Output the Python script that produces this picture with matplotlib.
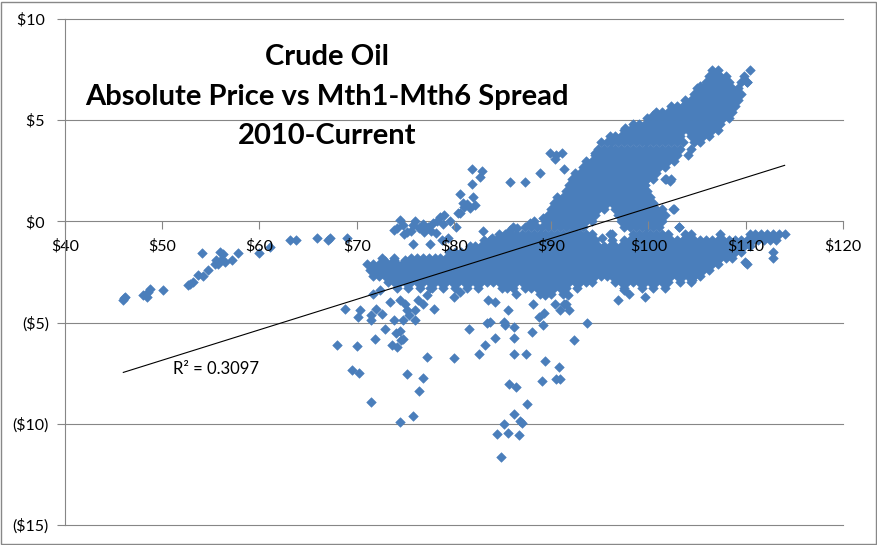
import matplotlib
matplotlib.use('Agg')
import matplotlib.pyplot as plt
from matplotlib.patches import Rectangle

plt.rcParams['font.family'] = ['Lato', 'DejaVu Sans']

# front-month price ($/bbl) vs Mth1-Mth6 spread ($)
left_tail = [(46.0, -3.9), (46.2, -3.75), (46.1, -3.8), (48.0, -3.66), (48.4, -3.75),
             (48.5, -3.5), (48.7, -3.36), (50.1, -3.41), (52.6, -3.16), (52.9, -3.1),
             (53.2, -3.0), (53.7, -2.67), (54.2, -2.7), (54.7, -2.42), (54.1, -1.58),
             (55.4, -2.08), (55.5, -1.9), (55.7, -2.1), (55.9, -1.53), (56.0, -1.9),
             (56.3, -1.6), (56.5, -2.0), (57.2, -1.93), (57.8, -1.58), (60.0, -1.58),
             (61.1, -1.28), (63.1, -0.94), (63.8, -0.94), (65.9, -0.84), (67.0, -0.94),
             (67.3, -0.8), (69.0, -0.8)]

upper_left = [(74.4, 0.05), (74.1, -0.35), (73.8, -0.4), (74.8, -0.2), (75.2, -0.5),
              (75.8, -0.2), (75.6, -0.45), (76.0, 0.0), (76.4, -0.35), (76.8, -0.15),
              (76.9, -0.5), (77.3, -0.3), (77.6, -0.45), (77.8, -0.1), (78.2, -0.55),
              (78.3, 0.0), (78.6, 0.2), (78.9, -0.15), (79.0, 0.3), (79.4, -0.8),
              (79.6, 0.0), (80.2, -0.3), (74.9, -0.6), (75.8, -1.1), (77.5, -1.1),
              (78.8, -0.9), (80.4, 0.4), (80.6, 0.4), (81.0, 0.7), (81.3, 0.85),
              (81.6, 0.65), (80.9, 0.89), (82.2, 0.79), (80.6, 1.37), (82.0, 1.2),
              (81.9, 1.87), (82.7, 2.17), (81.9, 2.6), (82.9, 2.5), (85.8, 1.93),
              (87.3, 1.93), (88.8, 2.4), (89.9, 3.4), (90.5, 3.3), (91.1, 3.4),
              (90.4, 3.1), (91.3, 2.6), (94.5, 3.36), (83.9, -0.8), (83.0, -0.45),
              (85.8, -0.4), (86.5, -0.35), (87.8, -0.1), (89.2, 0.15), (90.2, 0.4),
              (72.9, -1.95), (73.8, -1.9), (75.0, -1.9), (97.6, 4.64), (100.5, 5.28),
              (105.3, 6.7), (110.1, 6.9)]

lower_scatter = [(68.0, -6.09), (70.0, -6.16), (69.5, -7.36), (70.2, -7.48), (71.5, -8.93),
                 (74.4, -9.91), (75.75, -9.63), (75.2, -7.53), (76.85, -7.74), (76.4, -8.4),
                 (77.2, -6.7), (80.0, -6.74), (81.5, -5.32), (82.6, -6.54), (83.2, -6.13),
                 (84.2, -5.76), (83.4, -5.0), (83.7, -4.95), (85.1, -4.97), (85.2, -5.1),
                 (86.2, -5.22), (86.2, -5.76), (86.2, -6.54), (87.4, -6.54), (85.6, -4.4),
                 (85.7, -8.02), (86.4, -8.19), (87.5, -9.01), (86.2, -9.5), (86.8, -9.88),
                 (87.0, -9.95), (85.1, -10.0), (84.4, -10.49), (85.6, -10.46), (86.7, -10.54),
                 (84.8, -11.64), (88.0, -5.47), (89.4, -6.9), (89.1, -7.9), (90.8, -7.2),
                 (90.5, -7.8), (90.9, -7.8), (92.3, -5.88), (93.7, -5.0), (89.2, -5.14),
                 (88.7, -4.73), (89.25, -4.53), (88.1, -4.07), (89.4, -3.66), (90.4, -4.07),
                 (90.9, -4.4), (91.3, -4.07), (91.75, -3.66), (91.5, -4.1), (91.8, -4.4),
                 (84.2, -3.99), (83.5, -3.87), (80.0, -3.74), (80.6, -3.5), (77.9, -4.31),
                 (77.2, -3.66), (76.3, -3.9), (76.8, -4.1), (76.0, -4.4), (77.5, -3.3),
                 (76.0, -4.86), (74.8, -5.8), (74.6, -5.85), (74.1, -6.21), (73.6, -6.1),
                 (74.4, -5.39), (74.0, -5.5), (74.8, -4.89), (73.8, -4.89), (72.9, -5.3),
                 (71.9, -5.8), (71.5, -4.89), (71.5, -4.6), (72.0, -4.31), (72.6, -4.56),
                 (70.1, -4.73), (70.3, -4.36), (68.8, -4.31), (73.4, -3.99), (74.4, -3.9),
                 (71.7, -3.57), (72.4, -3.4), (75.0, -4.1), (75.2, -4.4), (75.4, -4.6),
                 (96.9, -3.9), (97.5, -3.4), (98.0, -3.6), (99.6, -3.75), (104.5, -2.9),
                 (109.9, -2.0), (112.8, -1.53), (96.2, -0.6), (95.2, -0.8),
                 (102.5, 0.6), (102.2, 2.0), (103.1, -0.3), (101.8, 2.1)]

# dense part of the cloud: prices read along each spread level
dense_rows = [
    (-3.6, [86.4, 88.8, 89.4, 90.0, 91.2]),
    (-3.3, [74.1, 75.3, 76.5, 77.7, 78.9, 80.1, 81.3, 82.5, 84.9, 85.5, 86.1, 87.3, 87.9,
            88.5, 89.1, 89.7, 90.3, 90.9, 91.5, 92.7, 97.5, 99.3, 100.5, 101.7]),
    (-3.0, [73.2, 73.8, 74.4, 75.0, 75.6, 76.2, 76.8, 77.4, 78.0, 78.6, 79.2, 79.8, 80.4,
            81.0, 81.6, 82.2, 82.8, 83.4, 84.0, 84.6, 85.2, 85.8, 86.4, 87.0, 87.6, 88.2,
            88.8, 89.4, 90.0, 90.6, 91.2, 91.8, 92.4, 93.0, 93.6, 94.2, 96.6, 97.2, 97.8,
            98.4, 99.0, 99.6, 100.2, 100.8, 101.4, 102.0, 103.2, 104.4]),
    (-2.7, [71.7, 72.3, 72.9, 73.5, 74.1, 74.7, 75.3, 75.9, 76.5, 77.1, 77.7, 78.3, 78.9,
            79.5, 80.1, 80.7, 81.3, 81.9, 82.5, 83.1, 83.7, 84.3, 84.9, 85.5, 86.1, 86.7,
            87.3, 87.9, 88.5, 89.1, 89.7, 90.3, 90.9, 91.5, 92.1, 92.7, 93.3, 93.9, 94.5,
            95.1, 95.7, 96.3, 96.9, 97.5, 98.1, 98.7, 99.3, 99.9, 100.5, 101.1, 101.7,
            102.3, 102.9, 103.5, 104.1, 104.7, 105.3]),
    (-2.4, [71.4, 72.0, 72.6, 73.2, 73.8, 74.4, 75.0, 75.6, 76.2, 76.8, 77.4, 78.0, 78.6,
            79.2, 79.8, 80.4, 81.0, 81.6, 82.2, 82.8, 83.4, 84.0, 84.6, 85.2, 85.8, 86.4,
            87.0, 87.6, 88.2, 88.8, 89.4, 90.0, 90.6, 91.2, 91.8, 92.4, 93.0, 93.6, 94.2,
            94.8, 95.4, 96.0, 96.6, 97.2, 97.8, 98.4, 99.0, 99.6, 100.2, 100.8, 101.4,
            102.0, 102.6, 103.2, 103.8, 104.4, 105.0, 105.6, 106.2]),
    (-2.1, [71.1, 71.7, 72.3, 72.9, 73.5, 74.1, 74.7, 75.3, 75.9, 76.5, 77.1, 77.7, 78.3,
            78.9, 79.5, 80.1, 80.7, 81.3, 81.9, 82.5, 83.1, 83.7, 84.3, 84.9, 85.5, 86.1,
            86.7, 87.3, 87.9, 88.5, 89.1, 89.7, 90.3, 90.9, 91.5, 92.1, 92.7, 93.3, 93.9,
            94.5, 95.1, 95.7, 96.3, 96.9, 97.5, 98.1, 98.7, 99.3, 99.9, 100.5, 101.1,
            101.7, 102.3, 102.9, 103.5, 104.1, 104.7, 105.3, 105.9, 106.5, 107.1, 110.1]),
    (-1.8, [72.6, 73.8, 75.6, 76.2, 76.8, 77.4, 78.0, 78.6, 79.2, 79.8, 80.4, 81.0, 81.6,
            82.2, 82.8, 83.4, 84.0, 84.6, 85.2, 85.8, 86.4, 87.0, 87.6, 88.2, 88.8, 89.4,
            90.0, 90.6, 91.2, 91.8, 92.4, 93.0, 93.6, 94.2, 94.8, 95.4, 96.0, 96.6, 97.2,
            97.8, 98.4, 99.0, 99.6, 100.2, 100.8, 101.4, 102.0, 102.6, 103.2, 103.8, 104.4,
            105.0, 105.6, 106.2, 106.8, 107.4, 108.0, 108.6, 112.8]),
    (-1.5, [79.5, 80.1, 80.7, 81.3, 81.9, 82.5, 83.1, 83.7, 84.3, 84.9, 85.5, 86.1, 86.7,
            87.3, 87.9, 88.5, 89.1, 89.7, 90.3, 90.9, 91.5, 92.1, 92.7, 93.3, 93.9, 94.5,
            95.1, 95.7, 96.3, 96.9, 97.5, 98.1, 98.7, 99.3, 99.9, 100.5, 101.1, 101.7,
            102.3, 102.9, 103.5, 104.1, 104.7, 105.3, 105.9, 106.5, 107.1, 107.7, 108.3,
            108.9, 109.5]),
    (-1.2, [81.6, 82.2, 82.8, 83.4, 84.0, 84.6, 85.2, 85.8, 86.4, 87.0, 87.6, 88.2, 88.8,
            89.4, 90.0, 90.6, 91.2, 91.8, 92.4, 93.0, 93.6, 94.2, 94.8, 95.4, 96.0, 96.6,
            97.2, 97.8, 98.4, 99.0, 99.6, 100.2, 100.8, 101.4, 102.0, 102.6, 103.2, 103.8,
            104.4, 105.0, 105.6, 106.2, 106.8, 107.4, 108.0, 108.6, 109.2, 109.8, 110.4]),
    (-0.9, [83.1, 83.7, 84.3, 84.9, 85.5, 86.1, 86.7, 87.3, 87.9, 88.5, 89.1, 89.7, 90.3,
            90.9, 91.5, 92.1, 92.7, 93.3, 93.9, 94.5, 96.3, 97.5, 98.1, 98.7, 99.3, 99.9,
            100.5, 101.1, 101.7, 102.3, 102.9, 103.5, 104.1, 104.7, 105.3, 105.9, 106.5,
            107.1, 107.7, 108.3, 108.9, 109.5, 110.1, 110.7, 111.3, 111.9, 112.5, 113.1]),
    (-0.6, [84.6, 85.2, 85.8, 86.4, 87.0, 87.6, 88.2, 88.8, 89.4, 90.0, 90.6, 91.2, 91.8,
            92.4, 93.0, 93.6, 94.2, 96.0, 98.4, 99.0, 99.6, 100.2, 100.8, 101.4, 102.0,
            103.8, 104.4, 107.4, 110.4, 111.0, 111.6, 112.2, 112.8, 113.4, 114.0]),
    (-0.3, [86.1, 87.3, 87.9, 88.5, 89.1, 89.7, 90.3, 90.9, 91.5, 92.1, 92.7, 93.3, 97.5,
            98.1, 98.7, 99.3, 99.9, 100.5, 101.1, 103.1]),
    (0.0, [88.2, 89.4, 90.0, 90.6, 91.2, 91.8, 92.4, 93.0, 93.6, 94.2, 97.2, 97.8, 98.4,
           99.0, 99.6, 100.2, 100.8, 101.4]),
    (0.3, [89.7, 90.3, 90.9, 91.5, 92.1, 92.7, 93.3, 93.9, 94.5, 96.9, 97.5, 98.1, 98.7,
           99.3, 99.9, 100.5, 101.1, 101.7]),
    (0.6, [90.0, 90.6, 91.2, 91.8, 92.4, 93.0, 93.6, 94.2, 94.8, 95.4, 96.6, 97.2, 97.8,
           98.4, 99.0, 99.6, 100.2, 100.8, 101.4, 102.6]),
    (0.9, [90.3, 90.9, 91.5, 92.1, 92.7, 93.3, 93.9, 94.5, 95.1, 95.7, 96.3, 96.9, 97.5,
           98.1, 98.7, 99.3, 99.9, 100.5]),
    (1.2, [90.6, 91.2, 91.8, 92.4, 93.0, 93.6, 94.2, 94.8, 95.4, 96.0, 96.6, 97.2, 97.8,
           98.4, 99.0, 99.6, 100.2]),
    (1.5, [91.5, 92.1, 92.7, 93.3, 93.9, 94.5, 95.1, 95.7, 96.3, 96.9, 97.5, 98.1, 98.7,
           99.3, 99.9]),
    (1.8, [91.8, 92.4, 93.0, 93.6, 94.2, 94.8, 95.4, 96.0, 96.6, 97.2, 97.8, 98.4, 99.0,
           99.6]),
    (2.1, [92.1, 92.7, 93.3, 93.9, 94.5, 95.1, 95.7, 96.3, 96.9, 97.5, 98.1, 98.7, 99.3,
           99.9, 100.5, 101.7, 102.3]),
    (2.4, [92.4, 93.0, 93.6, 94.2, 94.8, 95.4, 96.0, 96.6, 97.2, 97.8, 98.4, 99.0, 99.6,
           100.2, 100.8]),
    (2.7, [93.3, 93.9, 94.5, 95.1, 95.7, 96.3, 96.9, 97.5, 98.1, 98.7, 99.3, 99.9, 100.5,
           101.1, 101.7]),
    (3.0, [93.6, 94.2, 94.8, 95.4, 96.0, 96.6, 97.2, 97.8, 98.4, 99.0, 99.6, 100.2, 100.8,
           101.4, 102.0, 102.6]),
    (3.3, [94.5, 95.1, 95.7, 96.3, 96.9, 97.5, 98.1, 98.7, 99.3, 99.9, 100.5, 101.1, 101.7,
           102.3, 102.9, 104.1]),
    (3.6, [94.8, 95.4, 96.0, 96.6, 97.2, 97.8, 98.4, 99.0, 99.6, 100.2, 100.8, 101.4, 102.0,
           102.6, 103.2, 104.4]),
    (3.9, [95.1, 95.7, 96.3, 96.9, 97.5, 98.1, 98.7, 99.3, 99.9, 100.5, 101.1, 101.7, 102.3,
           102.9, 103.5, 104.7, 105.3]),
    (4.2, [96.0, 96.6, 97.2, 97.8, 98.4, 99.0, 99.6, 100.2, 100.8, 101.4, 102.0, 102.6,
           103.2, 104.4, 105.0, 105.6, 106.2]),
    (4.5, [97.5, 98.1, 98.7, 99.3, 99.9, 100.5, 101.1, 101.7, 102.3, 102.9, 103.5, 104.1,
           104.7, 105.3, 105.9, 106.5, 107.1]),
    (4.8, [98.4, 99.0, 99.6, 100.2, 100.8, 101.4, 102.0, 102.6, 103.2, 103.8, 104.4, 105.0,
           105.6, 106.2, 106.8, 107.4]),
    (5.1, [99.9, 100.5, 101.1, 101.7, 102.3, 102.9, 103.5, 104.1, 104.7, 105.3, 105.9,
           106.5, 107.1, 107.7, 108.3]),
    (5.4, [100.8, 101.4, 102.0, 102.6, 103.2, 103.8, 104.4, 105.0, 105.6, 106.2, 106.8,
           107.4, 108.0, 108.6]),
    (5.7, [102.3, 102.9, 103.5, 104.1, 104.7, 105.3, 105.9, 106.5, 107.1, 107.7, 108.3,
           108.9]),
    (6.0, [103.8, 104.4, 105.0, 105.6, 106.2, 106.8, 107.4, 108.0, 108.6, 109.2]),
    (6.3, [104.7, 105.3, 105.9, 106.5, 107.1, 107.7, 108.3, 108.9, 109.5]),
    (6.6, [105.0, 105.6, 106.2, 106.8, 107.4, 108.0, 108.6, 109.2]),
    (6.9, [105.9, 106.5, 107.1, 107.7, 108.3, 109.5, 110.1]),
    (7.2, [106.2, 106.8, 107.4, 108.0, 109.8]),
    (7.5, [106.5, 107.1, 110.4]),
]

# linear trendline shown in the chart
trend_x = [46, 114]
trend_y = [-7.46, 2.77]
r2_label = 'R\u00b2 = 0.3097'

xtick_values = [40, 50, 60, 70, 80, 90, 100, 110, 120]
xtick_labels = ['$40', '$50', '$60', '$70', '$80', '$90', '$100', '$110', '$120']
ytick_values = [-15, -10, -5, 0, 5, 10]
ytick_labels = ['($15)', '($10)', '($5)', '$0 ', '$5 ', '$10 ']

title_lines = ['Crude Oil', 'Absolute Price vs Mth1-Mth6 Spread', '2010-Current']

price = []
spread = []
for pts in (left_tail, upper_left, lower_scatter):
    for x, y in pts:
        price.append(x)
        spread.append(y)
for y, xs in dense_rows:
    price += xs
    spread += [y] * len(xs)

grid_col = '#868686'
point_col = '#4A7EBB'

fig = plt.figure(figsize=(8.78, 5.45), dpi=100)
ax = fig.add_axes([0.0740, 0.0367, 0.8861, 0.9284])

# gridlines (incl. the $0 line the x axis sits on) go behind the points,
# tick labels stay on top like in Excel
for yv in ytick_values:
    ax.axhline(yv, color=grid_col, linewidth=0.8, zorder=0.5, clip_on=False)

ax.scatter(price, spread, marker='D', s=24, color=point_col, edgecolors=point_col,
           linewidths=0.4, zorder=1)
ax.plot(trend_x, trend_y, color='black', linewidth=0.8, zorder=2)
ax.text(51.1, -7.3, r2_label, fontsize=12, va='center', ha='left')

ax.set_xlim(40, 120)
ax.set_ylim(-15, 10)
ax.set_xticks(xtick_values)
ax.set_xticklabels(xtick_labels)
ax.set_yticks(ytick_values)
ax.set_yticklabels(ytick_labels)

for side in ['top', 'right']:
    ax.spines[side].set_visible(False)
ax.spines['bottom'].set_position(('data', 0))
ax.spines['bottom'].set_edgecolor('none')
ax.spines['left'].set_color(grid_col)
ax.tick_params(axis='x', direction='out', length=6, color=grid_col, pad=7, labelsize=11.5)
ax.tick_params(axis='y', direction='out', length=6, color=grid_col, pad=5.5, labelsize=11.5)

title_y = [0.8954, 0.8220, 0.7505]
for line, ty in zip(title_lines, title_y):
    fig.text(0.3724, ty, line, ha='center', va='center', fontsize=21, fontweight='bold')

fig.add_artist(Rectangle((1.5 / 878, 1.5 / 545), 875 / 878, 542 / 545,
                         transform=fig.transFigure, fill=False,
                         edgecolor='#888888', linewidth=1))

fig.savefig('out.png', dpi=100)
